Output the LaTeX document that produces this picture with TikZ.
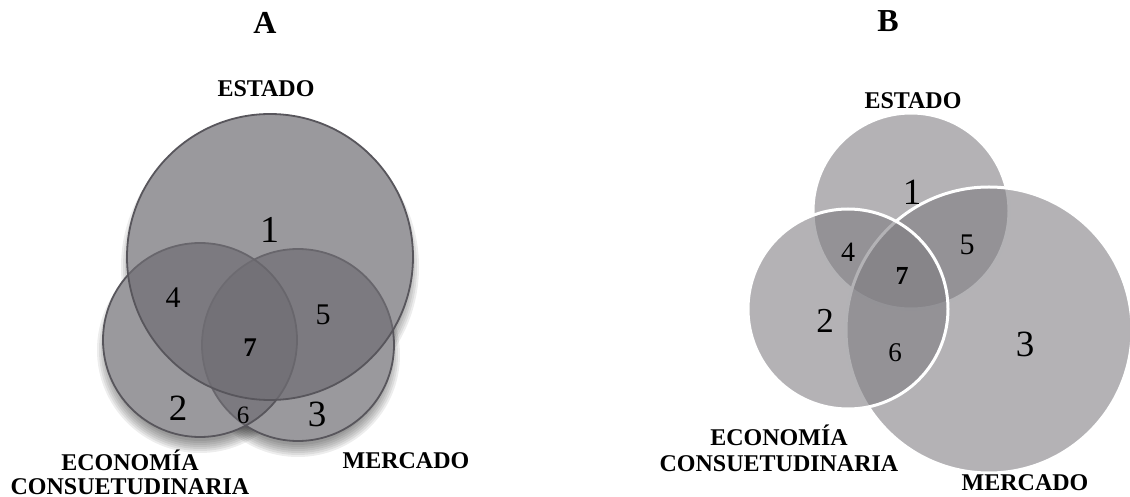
\documentclass[tikz,border=0pt]{standalone}
\usepackage{fontspec}
\setmainfont{Liberation Serif}
\usetikzlibrary{calc}
\definecolor{afill}{RGB}{112,110,116}
\definecolor{aline}{RGB}{88,86,92}
\definecolor{bfill}{RGB}{125,123,128}
\tikzset{
  lbl/.style={font=\bfseries\fontsize{24bp}{26bp}\selectfont, anchor=base, inner sep=0pt},
  ttl/.style={font=\bfseries\fontsize{32bp}{34bp}\selectfont, anchor=base, inner sep=0pt},
  num/.style={anchor=base, inner sep=0pt, font=\fontsize{#1bp}{#1bp}\selectfont},
  bnum/.style={anchor=base, inner sep=0pt, font=\bfseries\fontsize{#1bp}{#1bp}\selectfont},
  acirc/.style={fill=afill, fill opacity=0.7, draw=aline, line width=1.8bp},
  bcirc/.style={fill=bfill, fill opacity=0.58, draw=white, line width=3bp},
  ashadow/.style={fill=black, opacity=0.07},
  blank/.style={fill=white},
}
\begin{document}
\begin{tikzpicture}[x=1bp, y=-1bp]
\useasboundingbox (0,0) rectangle (1130,497);
% ---------------- A ----------------
\coordinate (AE) at (270,257);
\coordinate (AC) at (200,340);
\coordinate (AM) at (298,345);
\foreach \c/\r in {AE/143, AC/97, AM/96} {
  \foreach \k in {0,...,6} {
    \path[ashadow] ($(\c)+(0,10)$) circle[radius={\r bp+6bp-2bp*\k}];
  }
}
\path[blank] (AM) circle[radius=96bp];
\path[blank] (AC) circle[radius=97bp];
\path[blank] (AE) circle[radius=143bp];
\path[acirc] (AM) circle[radius=96bp];
\path[acirc] (AC) circle[radius=97bp];
\path[acirc] (AE) circle[radius=143bp];

\node[ttl] (Atitle) at (265,33.5) {A};
\node[lbl] (Aest) at (266,97) {ESTADO};
\node[lbl] (Aeco1) at (130,470) {ECONOMÍA};
\node[lbl] (Aeco2) at (130,494) {CONSUETUDINARIA};
\node[lbl] (Amer) at (406,468) {MERCADO};

\node[num=38] (A1) at (270,243) {1};
\node[num=30] (A4) at (173,308) {4};
\node[num=30] (A5) at (323,325) {5};
\node[bnum=27] (A7) at (250,357) {7};
\node[num=37] (A2) at (178,420) {2};
\node[num=25] (A6) at (243,423) {6};
\node[num=37] (A3) at (317,426) {3};

% ---------------- B ----------------
\coordinate (BE) at (911,211);
\coordinate (BC) at (848,309);
\coordinate (BM) at (989,330);
\path[bcirc] (BE) circle[radius=98bp];
\path[bcirc] (BM) circle[radius=143bp];
\path[bcirc] (BC) circle[radius=100bp];

\node[ttl] (Btitle) at (888,32) {B};
\node[lbl] (Best) at (913,109) {ESTADO};
\node[lbl] (Beco1) at (779,445) {ECONOMÍA};
\node[lbl] (Beco2) at (779,471) {CONSUETUDINARIA};
\node[lbl] (Bmer) at (1025,490) {MERCADO};

\node[num=37] (B1) at (912,205) {1};
\node[num=28] (B4) at (848,262) {4};
\node[num=30] (B5) at (967,255) {5};
\node[bnum=26] (B7) at (902,285) {7};
\node[num=35] (B2) at (825,333) {2};
\node[num=27] (B6) at (895,362) {6};
\node[num=37] (B3) at (1025,357) {3};
\end{tikzpicture}
\end{document}
